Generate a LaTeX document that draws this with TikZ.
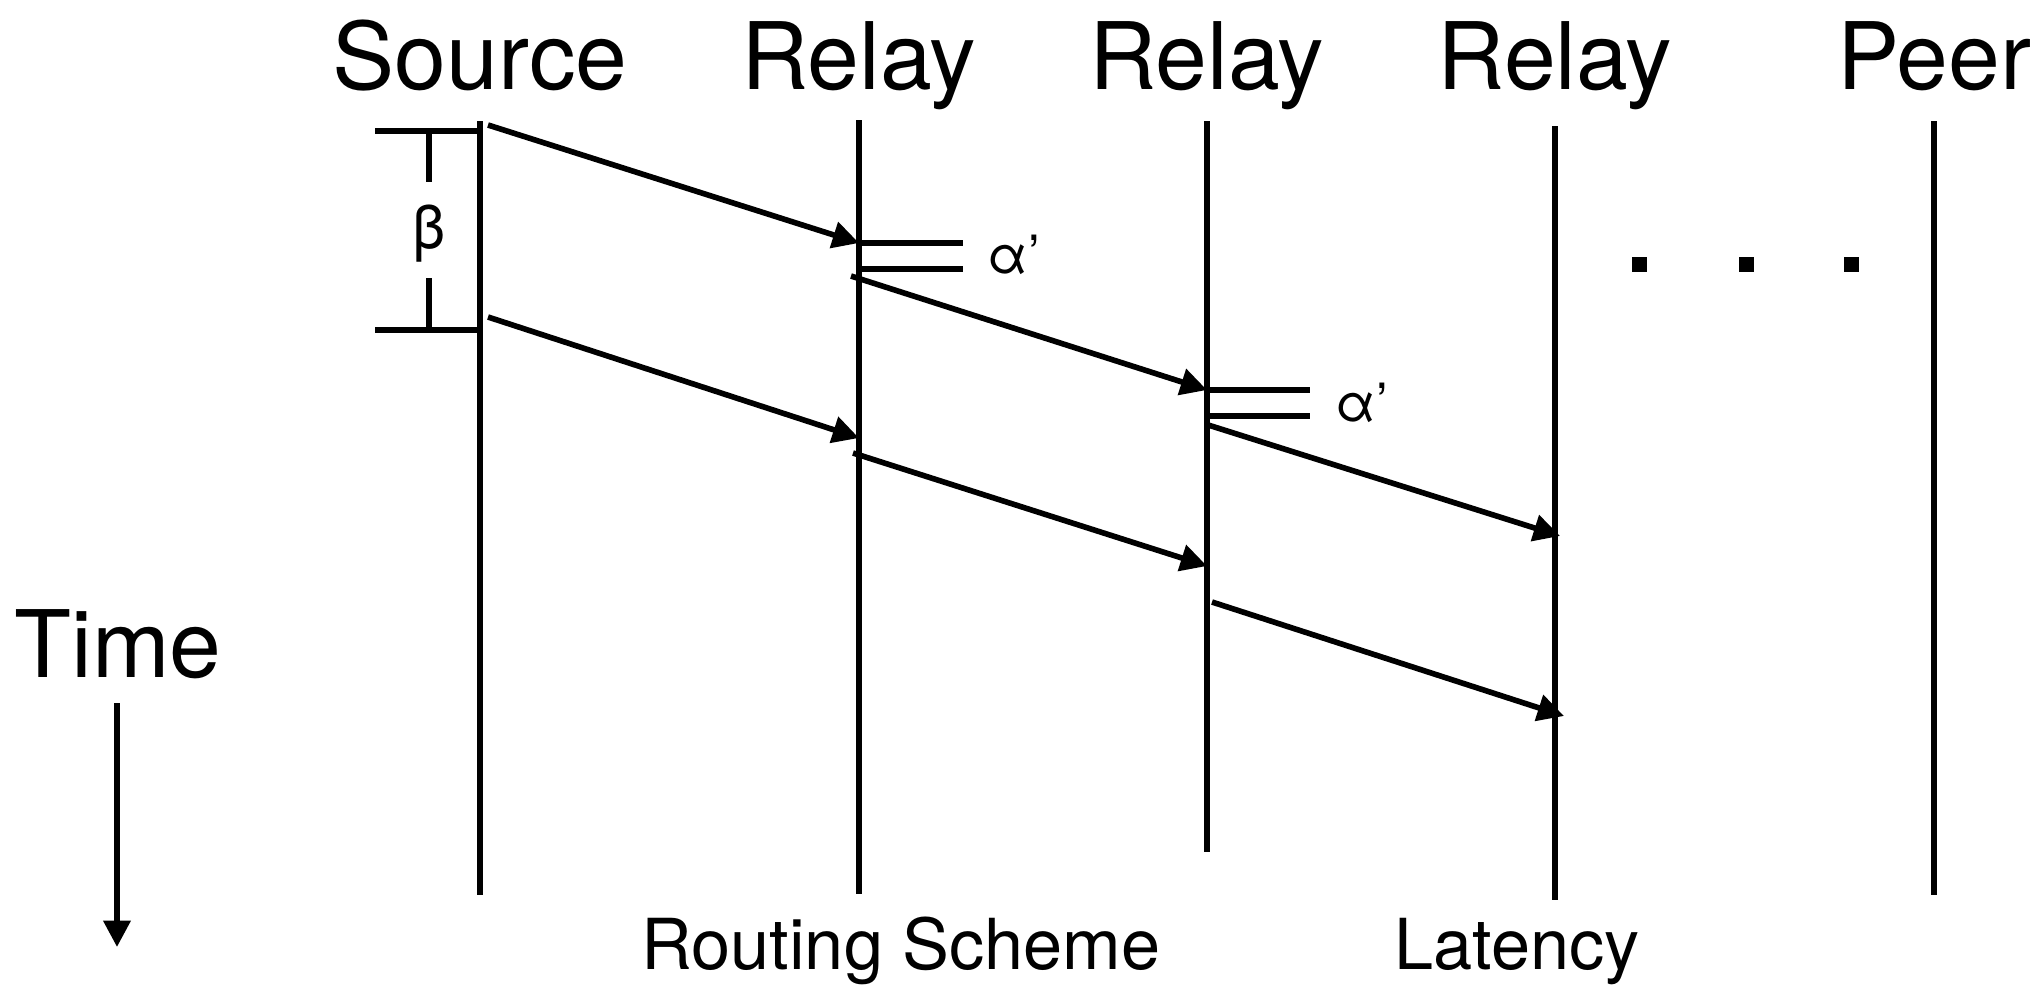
\documentclass[tikz,border=0pt]{standalone}
\usepackage{fontspec}
\setmainfont{TeX Gyre Heros}
\usetikzlibrary{arrows.meta, positioning, calc}

\begin{document}
\begin{tikzpicture}[x=0.01cm, y=-0.01cm, >={Triangle[length=7.5pt, width=7.5pt]}, line width=1.6pt]

% Canvas
\useasboundingbox (0,0) rectangle (2040,984);

% Column headers and lifelines
\foreach \name/\txt/\x/\top/\bot in {src/Source/480/121/895, rla/Relay/859/120/894,
    rlb/Relay/1207/121/852, rlc/Relay/1555/126/900, peer/Peer/1934/121/895} {
  \node[font=\fontsize{26.5}{30}\selectfont, anchor=base] (\name) at (\x,89) {\txt};
  \coordinate (\name-top) at (\x,\top);
  \coordinate (\name-bot) at (\x,\bot);
  \draw (\name-top) -- (\name-bot);
}

% Spacing beta between two sends at the source
\coordinate (b1) at (375,131);
\coordinate (b2) at (375,330);
\draw (b1) -- (src-top |- b1);
\draw (b2) -- (src-top |- b2);
\node[font=\fontsize{17}{20}\selectfont] (beta) at (429,234) {β};
\draw ($(b1)+(54,0)$) -- ($(b1)+(54,51)$);
\draw ($(b2)+(54,0)$) -- ($(b2)+(54,-52)$);

% Forwarding delay alpha' at the relays
\coordinate (da1) at (859,243);
\coordinate (da2) at (859,269);
\draw (da1) -- ++(104,0);
\draw (da2) -- ++(104,0);
\node[font=\fontsize{15}{18}\selectfont] (alpha-a) at (1014,255) {α’};
\coordinate (db1) at (1207,390);
\coordinate (db2) at (1207,416);
\draw (db1) -- ++(103,0);
\draw (db2) -- ++(103,0);
\node[font=\fontsize{15}{18}\selectfont] (alpha-b) at (1362,403) {α’};

% First packet
\coordinate (p1a) at (488,125);
\coordinate (p1b) at (851,276);
\coordinate (p1c) at (1205,424);
\coordinate (p1d) at (1560,536);
\draw[->] (p1a) -- (da1);
\draw[->] (p1b) -- (db1);
\draw[->] (p1c) -- (p1d);

% Second packet
\coordinate (p2a) at (488,317);
\coordinate (p2b) at (853,453);
\coordinate (p2c) at (1212,602);
\draw[->] (p2a) -- (859,438);
\draw[->] (p2b) -- (1207,566);
\draw[->] (p2c) -- (1564,716);

% More relays
\foreach \x in {1639,1746,1851}
  \fill (\x-7.5,256.5) rectangle +(15,15);

% Time axis
\node[font=\fontsize{26.5}{30}\selectfont, anchor=base] (time) at (118,677) {Time};
\coordinate (tend) at (117,947);
\draw[->] (117,703) -- (tend);

% Captions
\node[font=\fontsize{20}{24}\selectfont, anchor=base] (scheme) at (901,969) {Routing Scheme};
\node[font=\fontsize{20}{24}\selectfont, anchor=base] (latency) at (1517,969) {Latency};

\end{tikzpicture}
\end{document}
